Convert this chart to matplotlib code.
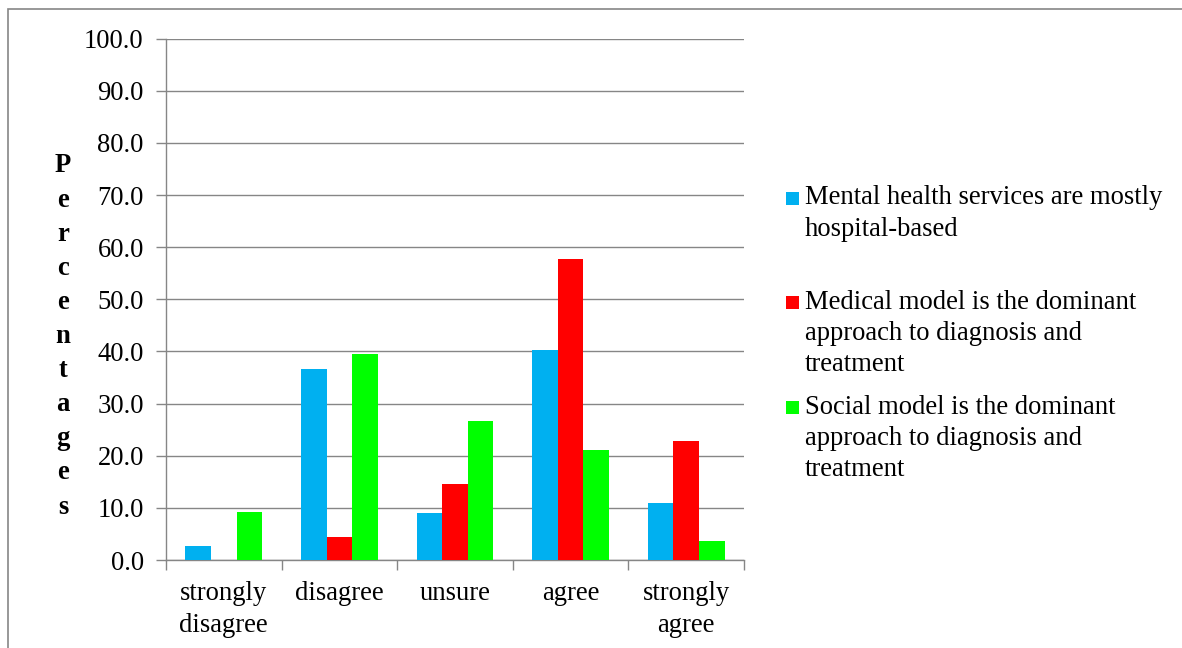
import numpy as np
import matplotlib
matplotlib.use('Agg')
import matplotlib.pyplot as plt
from matplotlib.patches import Rectangle

categories = ['strongly\ndisagree', 'disagree', 'unsure', 'agree', 'strongly\nagree']
series_names = ['Mental health services are mostly\nhospital-based',
                'Medical model is the dominant\napproach to diagnosis and\ntreatment',
                'Social model is the dominant\napproach to diagnosis and\ntreatment']
hospital_based = [2.6, 36.7, 9.0, 40.2, 10.9]
medical_model = [0.0, 4.5, 14.5, 57.7, 22.8]
social_model = [9.2, 39.5, 26.6, 21.1, 3.7]
colors = ['#00B0F0', '#FF0000', '#00FF00']
yticks = np.arange(0, 101, 10)
ylabel = 'Percentages'

plt.rcParams['font.family'] = ['Liberation Serif', 'DejaVu Serif']
FS = 19.2
W, H = 1182, 648

fig = plt.figure(figsize=(W / 100, H / 100), dpi=100)
ax = fig.add_axes([166 / W, 1 - 560 / H, (744 - 166) / W, (560 - 38.7) / H])

# outer chart frame (only top and left visible)
fig.patches.append(Rectangle((8 / W, -0.1), 1.2, 1.1 - 9 / H, transform=fig.transFigure,
                             fill=False, edgecolor='#868686', linewidth=1.2))

x = np.arange(len(categories))
bw = 0.222
for i, vals in enumerate([hospital_based, medical_model, social_model]):
    ax.bar(x + (i - 1) * bw, vals, width=bw, color=colors[i], zorder=3)

ax.set_xlim(-0.5, len(categories) - 0.5)
ax.set_ylim(0, 100)
ax.set_yticks(yticks)
ax.set_yticklabels([f'{v:.1f}' for v in yticks], fontsize=FS)
ax.yaxis.grid(True, color='#868686', linewidth=1.0, zorder=0)
ax.set_axisbelow(True)

# category ticks at boundaries, labels centred
ax.set_xticks(np.arange(-0.5, len(categories)), minor=False)
ax.set_xticklabels([])
ax.set_xticks(x, minor=True)
ax.set_xticklabels(categories, minor=True, fontsize=FS, linespacing=1.38)
ax.tick_params(axis='x', which='major', length=7, width=1.0, color='#868686')
ax.tick_params(axis='x', which='minor', length=0, pad=15)
ax.tick_params(axis='y', length=7, width=1.0, color='#868686', pad=9)

for s in ['top', 'right']:
    ax.spines[s].set_visible(False)
for s in ['left', 'bottom']:
    ax.spines[s].set_color('#868686')
    ax.spines[s].set_linewidth(1.0)

# stacked vertical axis title
y0, step = 166, 34.1
for k, ch in enumerate(ylabel):
    fig.text(63 / W, 1 - (y0 + k * step) / H, ch, fontsize=FS, fontweight='bold',
             ha='center', va='center')

# legend drawn by hand so that the marker sits by the first line
entry_tops = [198, 302, 407]
line_step = 31.5
for name, col, yt in zip(series_names, colors, entry_tops):
    fig.patches.append(Rectangle((786 / W, 1 - (yt + 6.5) / H), 13 / W, 13 / H,
                                 transform=fig.transFigure, facecolor=col, edgecolor='none'))
    for j, line in enumerate(name.split('\n')):
        fig.text(805 / W, 1 - (yt + j * line_step) / H, line, fontsize=FS,
                 ha='left', va='center')

fig.savefig('out.png', dpi=100)
